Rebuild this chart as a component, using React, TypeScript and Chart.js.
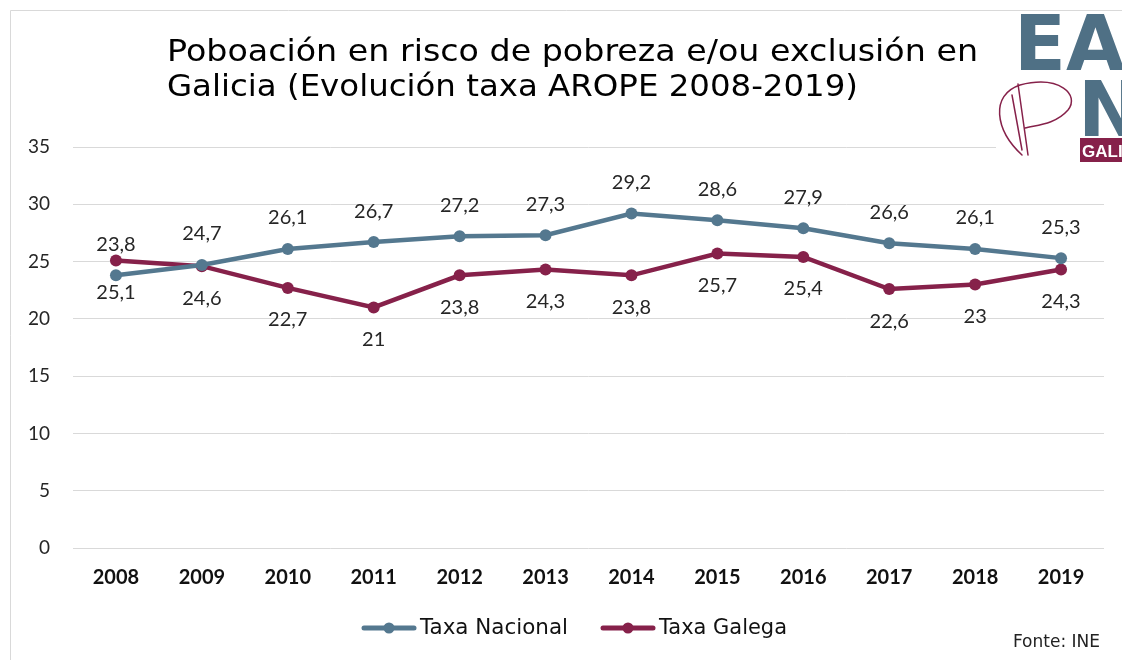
import React, { useEffect, useRef } from "react";
import { Chart, registerables } from "chart.js";

Chart.register(...registerables);

const years = ["2008", "2009", "2010", "2011", "2012", "2013", "2014", "2015", "2016", "2017", "2018", "2019"];
const taxaNacional = [23.8, 24.7, 26.1, 26.7, 27.2, 27.3, 29.2, 28.6, 27.9, 26.6, 26.1, 25.3];
const taxaGalega = [25.1, 24.6, 22.7, 21, 23.8, 24.3, 23.8, 25.7, 25.4, 22.6, 23, 24.3];
const titleLines = ["Poboación en risco de pobreza e/ou exclusión en", "Galicia (Evolución taxa AROPE 2008-2019)"];
const seriesNames = ["Taxa Nacional", "Taxa Galega"];
const sourceText = "Fonte: INE";

const BLUE = "#54788f";
const RED = "#86214a";
const LABEL_FONT = "Lato, 'Open Sans', sans-serif";

function fitText(ctx: any, text: string, x: number, y: number, width: number) {
  const tw = ctx.measureText(text).width;
  ctx.save();
  ctx.translate(x, y);
  ctx.scale(width / tw, 1);
  ctx.fillText(text, 0, 0);
  ctx.restore();
}

const decorPlugin = {
  id: "decor",
  beforeDraw(chart: any) {
    const ctx = chart.ctx;
    ctx.save();
    ctx.fillStyle = "#ffffff";
    ctx.fillRect(0, 0, chart.width, chart.height);
    ctx.strokeStyle = "#d9d9d9";
    ctx.lineWidth = 1;
    ctx.beginPath();
    ctx.moveTo(10.5, 660);
    ctx.lineTo(10.5, 10.5);
    ctx.lineTo(1122, 10.5);
    ctx.stroke();
    ctx.restore();
  },
  afterDraw(chart: any) {
    const ctx = chart.ctx;
    ctx.save();
    // title
    ctx.fillStyle = "#000000";
    ctx.textAlign = "left";
    ctx.textBaseline = "alphabetic";
    ctx.font = "31px 'DejaVu Sans'";
    fitText(ctx, titleLines[0], 167, 61, 811);
    fitText(ctx, titleLines[1], 167, 96, 691);

    // legend
    const ly = 628;
    const items = [
      { x: 362, color: BLUE, text: seriesNames[0], w: 148 },
      { x: 601, color: RED, text: seriesNames[1], w: 128 },
    ];
    ctx.textBaseline = "middle";
    items.forEach((it) => {
      ctx.strokeStyle = it.color;
      ctx.lineWidth = 5;
      ctx.lineCap = "round";
      ctx.beginPath();
      ctx.moveTo(it.x + 2, ly);
      ctx.lineTo(it.x + 52, ly);
      ctx.stroke();
      ctx.fillStyle = it.color;
      ctx.beginPath();
      ctx.arc(it.x + 27, ly, 5.5, 0, Math.PI * 2);
      ctx.fill();
      ctx.fillStyle = "#111111";
      ctx.font = "21px 'DejaVu Sans'";
      fitText(ctx, it.text, it.x + 58, ly + 1, it.w);
    });

    // source
    ctx.font = "17px 'DejaVu Sans'";
    ctx.fillStyle = "#222222";
    ctx.textAlign = "right";
    ctx.fillText(sourceText, 1100, 643);

    // logo (approximation)
    ctx.fillStyle = "#ffffff";
    ctx.fillRect(996, 11, 126, 152);
    ctx.textAlign = "left";
    ctx.textBaseline = "alphabetic";
    ctx.fillStyle = "#4f7085";
    ctx.font = "bold 76px 'DejaVu Sans'";
    ctx.fillText("EA", 1014, 70);
    ctx.fillText("N", 1078, 136);
    ctx.fillStyle = "#86214a";
    ctx.fillRect(1080, 138, 42, 24);
    ctx.fillStyle = "#ffffff";
    ctx.font = "bold 17px 'Liberation Sans Narrow', 'Liberation Sans'";
    ctx.fillText("GALICIA", 1082, 157);
    ctx.strokeStyle = "#86214a";
    ctx.lineWidth = 1.5;
    ctx.beginPath();
    ctx.moveTo(1022, 155);
    ctx.bezierCurveTo(995, 130, 990, 95, 1020, 85);
    ctx.bezierCurveTo(1060, 75, 1080, 95, 1068, 110);
    ctx.bezierCurveTo(1055, 125, 1035, 125, 1025, 128);
    ctx.stroke();
    ctx.beginPath();
    ctx.moveTo(1018, 84);
    ctx.lineTo(1028, 155);
    ctx.moveTo(1012, 95);
    ctx.lineTo(1022, 150);
    ctx.stroke();
    ctx.restore();
  },
  afterDatasetsDraw(chart: any) {
    const ctx = chart.ctx;
    ctx.save();
    ctx.font = `20px ${LABEL_FONT}`;
    ctx.fillStyle = "#262626";
    ctx.textAlign = "center";
    ctx.textBaseline = "middle";
    chart.data.datasets.forEach((ds: any, i: number) => {
      const meta = chart.getDatasetMeta(i);
      meta.data.forEach((pt: any, j: number) => {
        const v = ds.data[j];
        const txt = String(v).replace(".", ",");
        const dy = i === 0 ? -31 : 32;
        ctx.fillText(txt, pt.x, pt.y + dy);
      });
    });
    ctx.restore();
  },
};

export default function App() {
  const ref = useRef<HTMLCanvasElement | null>(null);
  useEffect(() => {
    if (!ref.current) return;
    const chart = new Chart(ref.current, {
      type: "line",
      data: {
        labels: years,
        datasets: [
          {
            label: seriesNames[0],
            data: taxaNacional,
            borderColor: BLUE,
            backgroundColor: BLUE,
            borderWidth: 4.5,
            pointRadius: 6,
            pointBackgroundColor: BLUE,
            pointBorderWidth: 0,
            tension: 0,
          },
          {
            label: seriesNames[1],
            data: taxaGalega,
            borderColor: RED,
            backgroundColor: RED,
            borderWidth: 4.5,
            pointRadius: 6,
            pointBackgroundColor: RED,
            pointBorderWidth: 0,
            tension: 0,
          },
        ],
      },
      options: {
        responsive: false,
        animation: false,
        layout: { padding: { top: 147, right: 18, bottom: 71, left: 0 } },
        plugins: {
          legend: { display: false },
          title: { display: false },
          tooltip: { enabled: false },
        },
        scales: {
          x: {
            offset: true,
            grid: { display: false, drawTicks: false },
            border: { display: false },
            ticks: {
              padding: 18,
              color: "#111111",
              font: { family: LABEL_FONT, size: 20, weight: "bold" },
            },
            afterFit(scale: any) {
              scale.height = 41;
            },
          },
          y: {
            min: 0,
            max: 35,
            ticks: {
              stepSize: 5,
              padding: 23,
              color: "#262626",
              font: { family: LABEL_FONT, size: 19 },
            },
            grid: { color: "#d9d9d9", lineWidth: 1, drawTicks: false },
            border: { display: false },
            afterFit(scale: any) {
              scale.width = 73;
            },
          },
        },
      },
      plugins: [decorPlugin],
    });
    return () => chart.destroy();
  }, []);
  return (
    <div style={{ position: "fixed", left: 0, top: 0, width: 1122, height: 660 }}>
      <canvas ref={ref} width={1122} height={660} style={{ display: "block" }} />
    </div>
  );
}
